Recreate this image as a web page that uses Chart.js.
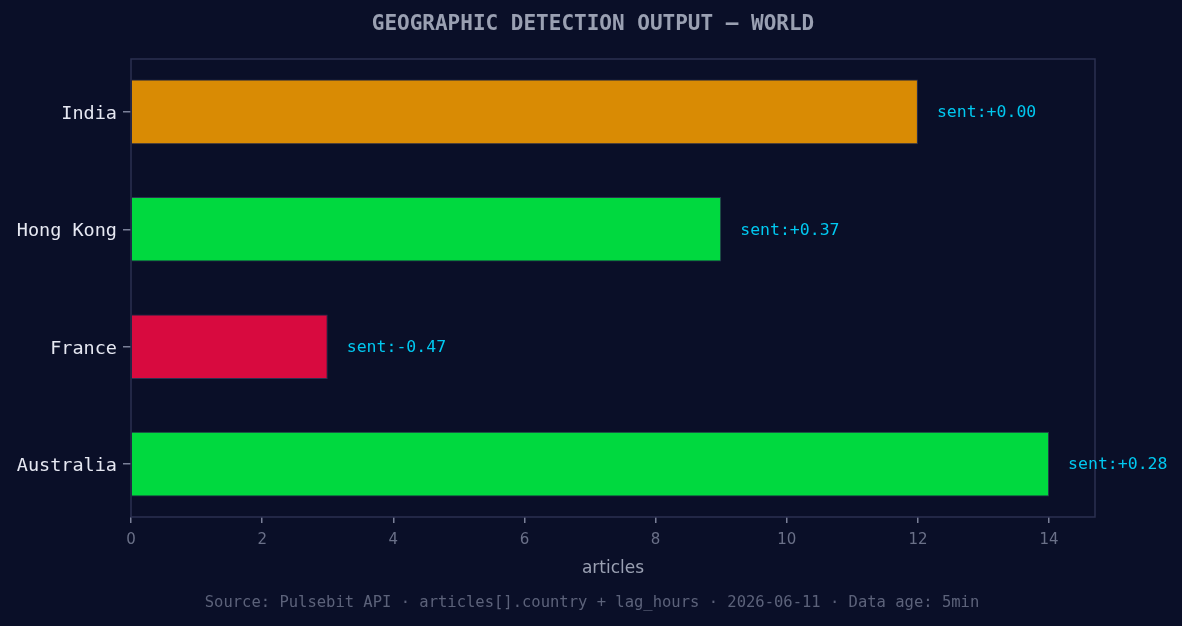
<!DOCTYPE html>
<html>
<head>
<meta charset="utf-8">
<script src="https://cdn.jsdelivr.net/npm/chart.js@4/dist/chart.umd.min.js"></script>
<style>
  html, body { margin: 0; padding: 0; background: #0a0f28; }
  #wrap { width: 1182px; height: 626px; }
</style>
</head>
<body>
<div id="wrap"><canvas id="geoChart" width="1182" height="626"></canvas></div>
<script>
// bottom to top, like the original barh
const countries = ["Australia", "France", "Hong Kong", "India"];
const articleCounts = [14, 3, 9, 12];
const sentiments = [0.28, -0.47, 0.37, 0.00];
const barColors = ["#00d93f", "#d80a3f", "#00d93f", "#d98b04"];
const xTicks = [0, 2, 4, 6, 8, 10, 12, 14];

const titleText = 'GEOGRAPHIC DETECTION OUTPUT — WORLD';
const footerText = 'Source: Pulsebit API · articles[].country + lag_hours · 2026-06-11 · Data age: 5min';

const mono = "'DejaVu Sans Mono', monospace";
const sans = "'DejaVu Sans', sans-serif";

// frame, value labels, title and footer
const framePlugin = {
  id: 'frame',
  afterDatasetsDraw(chart) {
    const { ctx, chartArea: a, scales, width } = chart;
    ctx.save();
    ctx.strokeStyle = '#2b3150';
    ctx.lineWidth = 1.5;
    ctx.strokeRect(a.left, a.top, a.right - a.left, a.bottom - a.top);

    ctx.font = "16.5px " + mono;
    ctx.fillStyle = '#00c8f0';
    ctx.textAlign = 'left';
    ctx.textBaseline = 'middle';
    countries.forEach((c, i) => {
      const s = sentiments[i];
      const txt = 'sent:' + (s >= 0 ? '+' : '') + s.toFixed(2);
      const x = scales.x.getPixelForValue(articleCounts[i]) + 19;
      const y = scales.y.getPixelForValue(i) + 1;
      ctx.fillText(txt, x, y);
    });

    ctx.textAlign = 'center';
    ctx.font = "bold 21px " + mono;
    ctx.fillStyle = '#9aa0b2';
    ctx.fillText(titleText, width / 2 + 2, 25);

    ctx.font = "15.5px " + mono;
    ctx.fillStyle = '#5c627a';
    ctx.fillText(footerText, width / 2 + 1, 603);
    ctx.restore();
  }
};

new Chart(document.getElementById('geoChart'), {
  type: 'bar',
  data: {
    datasets: [{
      data: countries.map((c, i) => ({ x: articleCounts[i], y: i })),
      backgroundColor: barColors,
      borderColor: '#2b3150',
      borderWidth: 1,
      categoryPercentage: 1,
      barPercentage: 0.55
    }]
  },
  options: {
    indexAxis: 'y',
    responsive: false,
    animation: false,
    layout: { padding: { left: 0, right: 87, top: 59, bottom: 45 } },
    plugins: {
      legend: { display: false },
      tooltip: { enabled: false }
    },
    scales: {
      x: {
        type: 'linear',
        min: 0,
        max: 14.7,
        afterBuildTicks: axis => { axis.ticks = xTicks.map(v => ({ value: v })); },
        afterFit: axis => { axis.height = 64; },
        grid: { display: true, drawOnChartArea: false, drawTicks: true, tickLength: 6, lineWidth: 1.5, color: '#7a8098' },
        border: { display: false },
        ticks: { color: '#6a7088', font: { family: sans, size: 15 }, padding: 8, maxRotation: 0 },
        title: { display: true, text: 'articles', color: '#9aa0b2', font: { family: sans, size: 17 }, padding: { top: 6, bottom: 2 } }
      },
      y: {
        type: 'linear',
        min: -0.45,
        max: 3.45,
        offset: false,
        afterBuildTicks: axis => { axis.ticks = countries.map((c, i) => ({ value: i })); },
        afterFit: axis => { axis.width = 131; },
        grid: { display: true, offset: false, drawOnChartArea: false, drawTicks: true, tickLength: 8, lineWidth: 1.5, color: '#7a8098' },
        border: { display: false },
        ticks: {
          color: '#e6e8f2',
          font: { family: mono, size: 18.5 },
          padding: 6,
          labelOffset: 2,
          callback: v => countries[v]
        }
      }
    }
  },
  plugins: [framePlugin]
});
</script>
</body>
</html>
